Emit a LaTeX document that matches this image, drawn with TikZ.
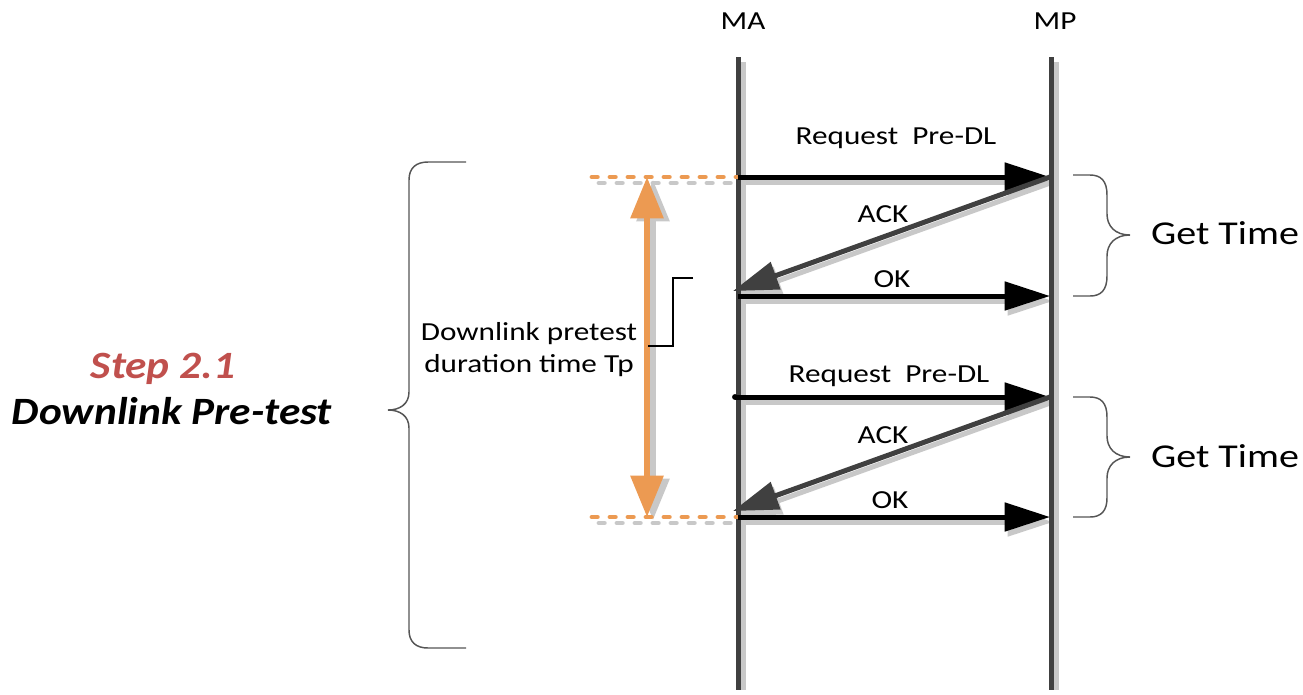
\documentclass[tikz,border=0pt]{standalone}
\usepackage{fontspec}
\setmainfont[FakeStretch=1.2]{Carlito}
\newfontfamily\stepfam[FakeStretch=1.12]{Carlito}
\usetikzlibrary{arrows.meta}
\definecolor{life}{HTML}{404040}
\definecolor{shad}{HTML}{C8C8C8}
\definecolor{orng}{HTML}{EC9A52}
\definecolor{stepred}{HTML}{C0504D}
\definecolor{bracec}{HTML}{555555}
\begin{document}
\begin{tikzpicture}[x=0.75pt,y=-0.75pt,
  lifeline/.style={line width=3.75pt, color=life},
  lifeshadow/.style={line width=3.75pt, color=shad},
  msg/.style={line width=3.75pt, -{Triangle[length=34pt,width=21pt]}},
  msgshadow/.style={msg, color=shad},
  ackmsg/.style={msg, color=life},
  tpline/.style={line width=4.5pt, color=orng, {Triangle[length=31pt,width=24pt]}-{Triangle[length=31pt,width=24pt]}},
  tpshadow/.style={tpline, color=shad},
  dashline/.style={line width=3.6pt, color=orng, line cap=round, dash pattern=on 4pt off 9.5pt},
  dashshadow/.style={dashline, color=shad},
  bracepath/.style={line width=1.1pt, color=bracec},
  lbl/.style={font=\fontsize{19.5}{23}\selectfont, inner sep=0pt, anchor=base},
  toplbl/.style={font=\fontsize{19.5}{23}\selectfont, inner sep=0pt, anchor=base},
  gt/.style={font=\fontsize{25}{30}\selectfont, inner sep=0pt, anchor=base},
  steptxt/.style={font=\stepfam\bfseries\itshape\fontsize{29}{34}\selectfont, inner sep=0pt, anchor=base}
]
\useasboundingbox (0,0) rectangle (1303,694);

% lifeline end points
\coordinate (MAtop) at (738,57);
\coordinate (MAbot) at (738,690);
\coordinate (MPtop) at (1051,57);
\coordinate (MPbot) at (1051,690);

% message points
\coordinate (a1) at (738,177);
\coordinate (b1) at (1050,177);
\coordinate (a2) at (733,291);
\coordinate (a3) at (738,296);
\coordinate (b3) at (1050,296);
\coordinate (a4) at (735,397);
\coordinate (b4) at (1050,397);
\coordinate (a5) at (733,511);
\coordinate (a6) at (738,517);
\coordinate (b6) at (1050,517);

% orange items
\coordinate (D1) at (592,177);
\coordinate (D2) at (592,517);
\coordinate (T1) at (647,177);
\coordinate (T2) at (647,517);

% lifeline shadows
\draw[lifeshadow] ([shift={(5,5)}]MAtop) -- ([shift={(5,0)}]MAbot);
\draw[lifeshadow] ([shift={(5,5)}]MPtop) -- ([shift={(5,0)}]MPbot);

% message shadows
\draw[msgshadow] ([shift={(3,5)}]a1) -- ([shift={(3,5)}]b1);
\draw[msgshadow] ([shift={(3,5)}]b1) -- ([shift={(3,5)}]a2);
\draw[msgshadow] ([shift={(3,5)}]a3) -- ([shift={(3,5)}]b3);
\draw[msgshadow] ([shift={(3,5)}]a4) -- ([shift={(3,5)}]b4);
\draw[msgshadow] ([shift={(3,5)}]b4) -- ([shift={(3,5)}]a5);
\draw[msgshadow] ([shift={(3,5)}]a6) -- ([shift={(3,5)}]b6);

% dashed shadows
\draw[dashshadow] ([shift={(7,6)}]D1) -- ([shift={(0,6)}]a1);
\draw[dashshadow] ([shift={(7,6)}]D2) -- ([shift={(0,6)}]a6);
\draw[tpshadow] ([shift={(6,3)}]T1) -- ([shift={(6,3)}]T2);

% lifelines
\draw[lifeline] (MAtop) -- (MAbot);
\draw[lifeline] (MPtop) -- (MPbot);

% dashed orange lines
\draw[dashline] (D1) -- (a1);
\draw[dashline] (D2) -- (a6);

% messages
\draw[msg] (a1) -- (b1);
\draw[ackmsg] (b1) -- (a2);
\draw[msg] (a3) -- (b3);
\fill (a4) circle (2.2pt);
\draw[msg] (a4) -- (b4);
\draw[ackmsg] (b4) -- (a5);
\draw[msg] (a6) -- (b6);

% orange duration arrow
\draw[tpline] (T1) -- (T2);

% labels
\node[toplbl] (ma) at (743,29) {MA};
\node[toplbl] (mp) at (1055,29) {MP};
\node[lbl] (r1) at (896,144) {Request\ \ Pre-DL};
\node[lbl] (k1) at (883,222) {ACK};
\node[lbl] (o1) at (892,287) {OK};
\node[lbl] (r2) at (889,382) {Request\ \ Pre-DL};
\node[lbl] (k2) at (883,443) {ACK};
\node[lbl] (o2) at (890,508) {OK};

\node[gt] (g1) at (1225,244) {Get Time};
\node[gt] (g2) at (1225,467) {Get Time};

\node[lbl] (tp1) at (529,340) {Downlink pretest};
\node[lbl] (tp2) at (529,372) {duration time Tp};

\node[steptxt, text=stepred] (s1) at (163,378) {Step 2.1};
\node[steptxt] (s2) at (172,424) {Downlink Pre-test};

% callout line
\coordinate (c1) at (693,278);
\coordinate (c2) at (648,346);
\draw[line width=0.8pt] (c1) -- (673,278) -- (673,346) -- (c2);

% left big brace
\draw[bracepath] (466,162) -- (428,162) .. controls (416,162) and (409,168) .. (409,180)
  -- (409,392) .. controls (409,404) and (400,410) .. (388,410)
  .. controls (400,410) and (409,416) .. (409,428)
  -- (409,630) .. controls (409,642) and (416,648) .. (428,648) -- (466,648);

% right braces
\draw[bracepath] (1073,175) -- (1090,175) .. controls (1101,175) and (1107,181) .. (1107,195)
  -- (1107,214) .. controls (1107,226) and (1115,235) .. (1130,235)
  .. controls (1115,235) and (1107,244) .. (1107,256)
  -- (1107,276) .. controls (1107,290) and (1101,296) .. (1090,296) -- (1073,296);
\draw[bracepath] (1073,397) -- (1090,397) .. controls (1101,397) and (1107,403) .. (1107,417)
  -- (1107,436) .. controls (1107,448) and (1115,457) .. (1130,457)
  .. controls (1115,457) and (1107,466) .. (1107,478)
  -- (1107,498) .. controls (1107,511) and (1101,517) .. (1090,517) -- (1073,517);
\end{tikzpicture}
\end{document}
